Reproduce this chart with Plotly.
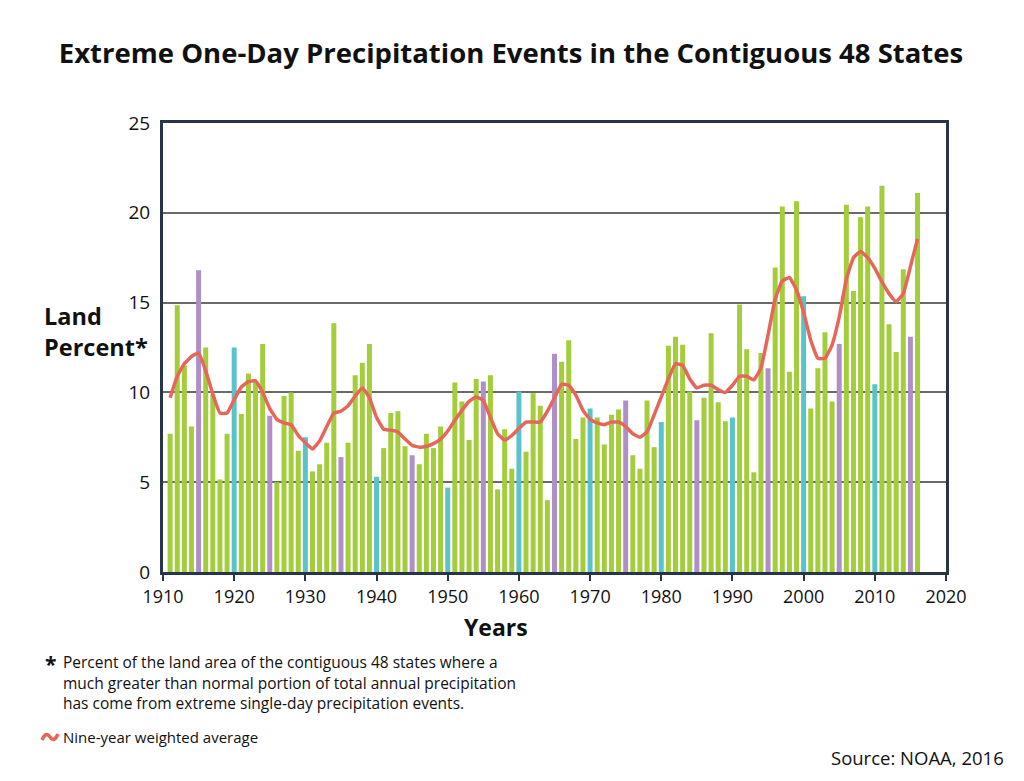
import plotly.graph_objects as go

years = list(range(1911, 2017))

land_percent = [
    7.7, 14.85, 11.5, 8.1, 16.8, 12.5, 9.9, 5.15, 7.7, 12.5,          # 1911-1920
    8.8, 11.05, 10.6, 12.7, 8.7, 5.0, 9.8, 10.0, 6.75, 7.5,           # 1921-1930
    5.6, 6.0, 7.2, 13.85, 6.4, 7.2, 10.95, 11.65, 12.7, 5.3,          # 1931-1940
    6.9, 8.85, 8.95, 7.0, 6.5, 6.0, 7.7, 6.9, 8.1, 4.7,               # 1941-1950
    10.55, 9.5, 7.35, 10.75, 10.6, 10.95, 4.6, 7.95, 5.75, 10.05,     # 1951-1960
    6.7, 9.95, 9.25, 4.0, 12.15, 11.7, 12.9, 7.4, 8.6, 9.1,           # 1961-1970
    8.6, 7.1, 8.75, 9.05, 9.55, 6.5, 5.75, 9.55, 6.95, 8.35,          # 1971-1980
    12.6, 13.1, 12.65, 10.05, 8.45, 9.7, 13.3, 9.45, 8.4, 8.6,        # 1981-1990
    14.9, 12.4, 5.55, 12.2, 11.35, 16.95, 20.35, 11.15, 20.65, 15.35, # 1991-2000
    9.1, 11.35, 13.35, 9.5, 12.7, 20.45, 15.65, 19.75, 20.35, 10.45,  # 2001-2010
    21.5, 13.8, 12.25, 16.85, 13.1, 21.1,                             # 2011-2016
]

nine_year_avg = [
    9.7, 10.9, 11.6, 12.0, 12.2, 11.2, 9.9, 8.85, 8.85, 9.6,          # 1911-1920
    10.3, 10.6, 10.65, 10.0, 9.1, 8.5, 8.3, 8.2, 7.6, 7.2,            # 1921-1930
    6.85, 7.3, 8.1, 8.85, 8.95, 9.25, 9.8, 10.25, 9.7, 8.6,           # 1931-1940
    7.95, 7.9, 7.8, 7.4, 7.05, 6.95, 7.0, 7.15, 7.4, 7.85,            # 1941-1950
    8.45, 9.0, 9.5, 9.75, 9.55, 8.6, 7.7, 7.35, 7.6, 8.0,             # 1951-1960
    8.35, 8.35, 8.35, 8.95, 9.7, 10.45, 10.4, 9.85, 9.0, 8.5,         # 1961-1970
    8.3, 8.2, 8.35, 8.35, 8.1, 7.7, 7.5, 7.8, 8.75, 9.75,             # 1971-1980
    10.75, 11.6, 11.5, 10.75, 10.25, 10.4, 10.4, 10.15, 10.0, 10.4,   # 1981-1990
    10.9, 10.9, 10.7, 11.35, 13.2, 15.2, 16.2, 16.4, 15.7, 14.45,     # 1991-2000
    12.9, 11.9, 11.9, 12.65, 14.2, 16.3, 17.5, 17.85, 17.5, 16.9,     # 2001-2010
    16.15, 15.5, 15.05, 15.5, 17.0, 18.55,                            # 2011-2016
]

x_ticks = list(range(1910, 2021, 10))
y_ticks = [0, 5, 10, 15, 20, 25]

title_text = "Extreme One-Day Precipitation Events in the Contiguous 48 States"
footnote_lines = [
    "Percent of the land area of the contiguous 48 states where a",
    "much greater than normal portion of total annual precipitation",
    "has come from extreme single-day precipitation events.",
]
legend_text = "Nine-year weighted average"
source_text = "Source: NOAA, 2016"

GREEN = "#a3cd3b"
TEAL = "#5ac3c9"
PURPLE = "#ae8fc7"
RED = "#e6675a"
FRAME = "#283447"
FONT = "Open Sans"

bar_colors = [TEAL if y % 10 == 0 else (PURPLE if y % 5 == 0 else GREEN) for y in years]

fig = go.Figure()
fig.add_trace(go.Bar(x=years, y=land_percent, marker=dict(color=bar_colors, line=dict(width=0)),
                     width=0.7, showlegend=False, hoverinfo="x+y"))
fig.add_trace(go.Scatter(x=years, y=nine_year_avg, mode="lines",
                         line=dict(color=RED, width=3.5, shape="spline", smoothing=0.35),
                         showlegend=False))

# page body has an 8px margin; figure is sized to fill the rest of the window
OFF = 8
W, H = 1024 - OFF, 781 - OFF
L, R, T, B = 163, 946, 123, 572   # plot area in page pixels


def px(xp):
    return (xp - L) / (R - L)


def py(yp):
    return (B - yp) / (B - T)


ann = []
ann.append(dict(text="<b>Land<br>Percent*</b>", x=px(42), y=py(331), xref="paper", yref="paper",
                xanchor="left", yanchor="middle", align="left", showarrow=False,
                font=dict(family=FONT, size=23.5, color="#111")))
ann.append(dict(text="<b>Years</b>", x=px(496), y=py(627), xref="paper", yref="paper",
                xanchor="center", yanchor="middle", showarrow=False,
                font=dict(family=FONT, size=23, color="#111")))
ann.append(dict(text="<b>*</b>", x=px(43), y=py(664), xref="paper", yref="paper",
                xanchor="left", yanchor="middle", showarrow=False,
                font=dict(family=FONT, size=21, color="#111")))
for i, line in enumerate(footnote_lines):
    ann.append(dict(text=line, x=px(61), y=py(662 + 20.5 * i), xref="paper", yref="paper",
                    xanchor="left", yanchor="middle", showarrow=False,
                    font=dict(family=FONT, size=15.5, color="#111")))
ann.append(dict(text=legend_text, x=px(61), y=py(737), xref="paper", yref="paper",
                xanchor="left", yanchor="middle", showarrow=False,
                font=dict(family=FONT, size=15, color="#111")))
ann.append(dict(text=source_text, x=px(1006), y=py(757), xref="paper", yref="paper",
                xanchor="right", yanchor="middle", showarrow=False,
                font=dict(family=FONT, size=18.5, color="#111")))

# legend glyph (small wavy red stroke)
gx0, gy = 42, 737
path = (f"M {px(gx0)},{py(gy+3)} Q {px(gx0+4)},{py(gy-6)} {px(gx0+8)},{py(gy)} "
        f"T {px(gx0+16)},{py(gy-3)}")
shapes = [dict(type="path", xref="paper", yref="paper", path=path,
               line=dict(color=RED, width=3.5))]

fig.update_layout(
    width=W, height=H,
    margin=dict(l=L - OFF, r=1024 - R, t=T - OFF, b=781 - B, autoexpand=False),
    paper_bgcolor="white", plot_bgcolor="white",
    title=dict(text=f"<b>{title_text}</b>", x=(511 - OFF) / W, xref="container", xanchor="center",
               y=1 - (53 - OFF) / H, yanchor="middle",
               font=dict(family=FONT, size=27.5, color="#111")),
    bargap=0.3,
    annotations=ann,
    shapes=shapes,
    font=dict(family=FONT, color="#111"),
)

fig.update_xaxes(range=[1910, 2020], tickvals=x_ticks, ticktext=[str(v) for v in x_ticks],
                 showgrid=False, zeroline=False,
                 showline=True, linecolor=FRAME, linewidth=3, mirror=True,
                 ticks="outside", ticklen=6, tickwidth=2, tickcolor=FRAME,
                 tickfont=dict(family=FONT, size=18, color="#111"))
fig.update_yaxes(range=[0, 25], tickvals=y_ticks, ticktext=[str(v) for v in y_ticks],
                 showgrid=True, gridcolor="#6a6a6a", gridwidth=2, zeroline=False,
                 showline=True, linecolor=FRAME, linewidth=3, mirror=True,
                 ticks="", ticklabelstandoff=6,
                 tickfont=dict(family=FONT, size=19, color="#111"))

fig.write_html("out.html")
